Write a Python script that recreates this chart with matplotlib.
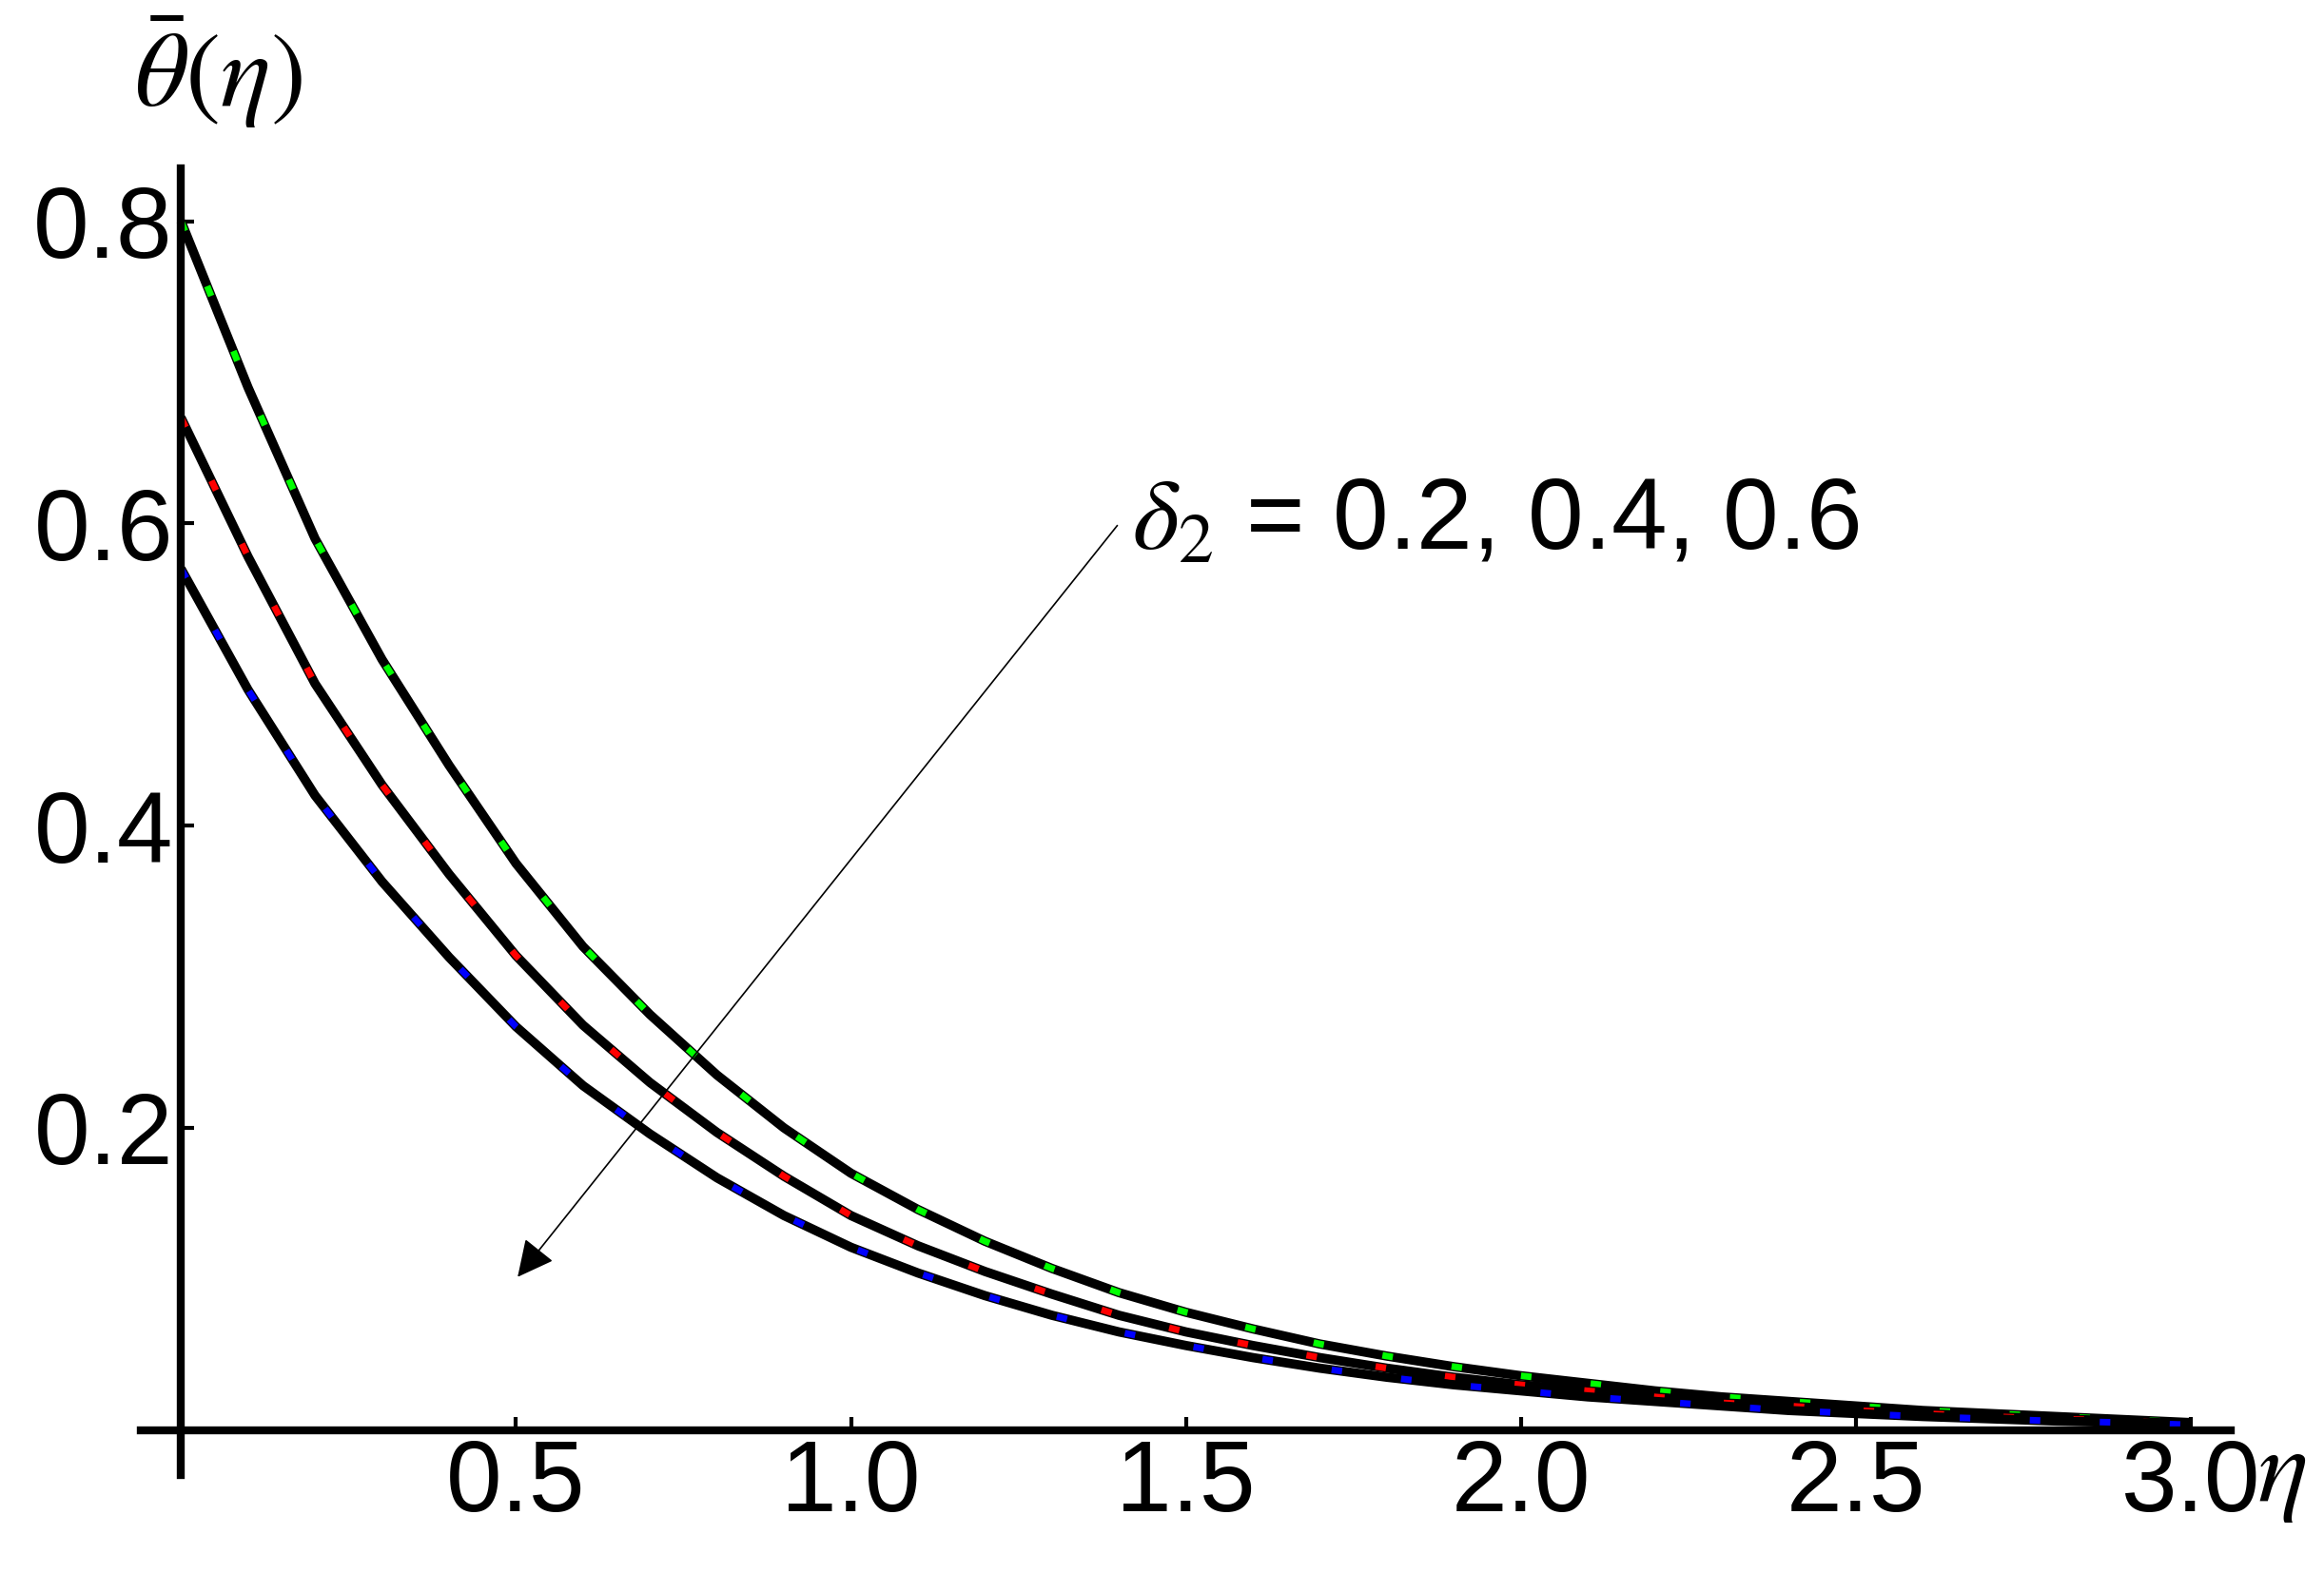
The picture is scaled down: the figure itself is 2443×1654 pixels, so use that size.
import matplotlib.pyplot as plt
import numpy as np

plt.rcParams['font.family'] = ['Liberation Sans', 'DejaVu Sans']
plt.rcParams['mathtext.fontset'] = 'stix'

eta = [round(0.1 * i, 1) for i in range(31)]
theta_g = [0.80, 0.69, 0.59, 0.51, 0.44, 0.375, 0.32, 0.275, 0.235, 0.20, 0.17, 0.146, 0.125, 0.107, 0.091, 0.078,
           0.067, 0.057, 0.049, 0.042, 0.036, 0.031, 0.026, 0.022, 0.019, 0.016, 0.013, 0.011, 0.009, 0.007, 0.005]
theta_r = [0.67, 0.578, 0.494, 0.427, 0.368, 0.314, 0.268, 0.230, 0.197, 0.168, 0.142, 0.122, 0.105, 0.090, 0.076, 0.065,
           0.056, 0.048, 0.041, 0.035, 0.030, 0.026, 0.022, 0.018, 0.016, 0.013, 0.011, 0.009, 0.0075, 0.006, 0.004]
theta_b = [0.57, 0.49, 0.42, 0.363, 0.313, 0.267, 0.228, 0.196, 0.167, 0.142, 0.121, 0.104, 0.089, 0.076, 0.065, 0.056,
           0.048, 0.041, 0.035, 0.030, 0.026, 0.022, 0.019, 0.016, 0.013, 0.011, 0.009, 0.0075, 0.006, 0.005, 0.0035]
colors = ['#00ff00', '#ff0000', '#0000ff']

fig = plt.figure(figsize=(24.43, 16.54), dpi=100)
ax = fig.add_axes([0.0606, 0.062, 0.8994, 0.831])

for y, c in zip([theta_g, theta_r, theta_b], colors):
    ax.plot(eta, y, color='black', lw=7, solid_capstyle='butt')
    ax.plot(eta, y, color=c, lw=5, linestyle=(0, (1.6, 9)))

ax.set_xlim(-0.06, 3.06)
ax.set_ylim(-0.03, 0.835)
for s in ['top', 'right']:
    ax.spines[s].set_visible(False)
ax.spines['left'].set_position(('data', 0))
ax.spines['bottom'].set_position(('data', 0))
ax.spines['left'].set_linewidth(6)
ax.spines['bottom'].set_linewidth(6)

ax.set_xticks([0.5, 1.0, 1.5, 2.0, 2.5, 3.0])
ax.set_xticklabels(['0.5', '1.0', '1.5', '2.0', '2.5', '3.0'])
ax.set_yticks([0.2, 0.4, 0.6, 0.8])
ax.set_yticklabels(['0.2', '0.4', '0.6', '0.8'])
ax.tick_params(which='major', direction='in', length=10, width=3, labelsize=76, pad=6)

ax.annotate('', xy=(0.50, 0.10), xytext=(1.40, 0.60),
            arrowprops=dict(arrowstyle='-|>', color='black', lw=1.2, mutation_scale=60))
ax.text(1.42, 0.60, r'$\delta_2$ = 0.2, 0.4, 0.6', fontsize=76, va='center', ha='left')
ax.text(-0.07, 0.86, r'$\bar{\theta}(\eta)$', fontsize=80, ha='left', va='bottom')
ax.text(3.1, -0.03, r'$\eta$', fontsize=80, ha='left', va='center')

fig.savefig('out.png', dpi=100)
